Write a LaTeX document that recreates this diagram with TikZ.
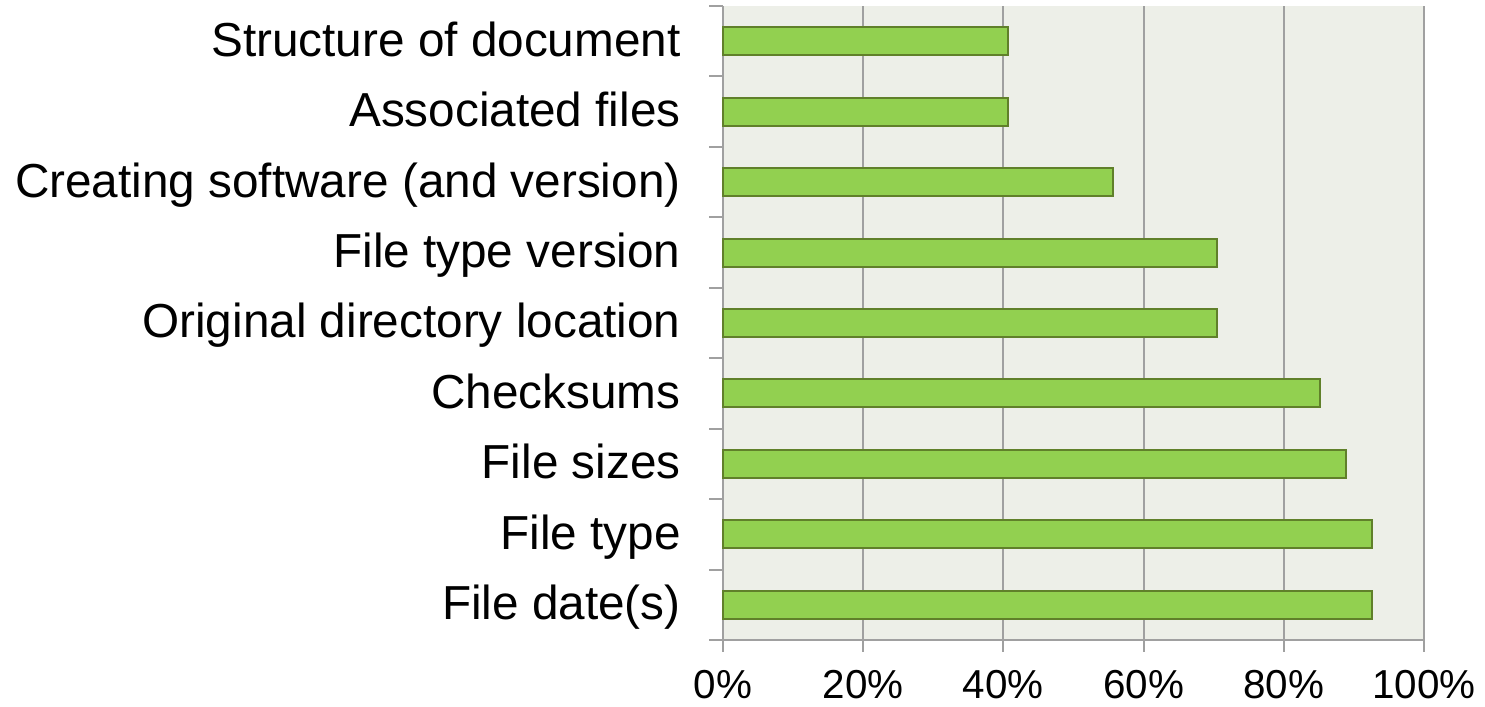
\documentclass[tikz,border=0pt]{standalone}
\usepackage{fontspec}
\setmainfont{Liberation Sans}
\usepackage{xcolor}
\definecolor{plotbg}{RGB}{237,239,232}
\definecolor{rule}{RGB}{160,160,160}
\definecolor{leaf}{RGB}{146,208,80}
\definecolor{moss}{RGB}{96,128,42}
\usepackage{tikz}

\begin{document}
\begin{tikzpicture}[x=0.5pt,y=-0.5pt,
  cat/.style={anchor=base east,inner sep=0pt,font=\fontsize{23.85}{28}\selectfont},
  pct/.style={anchor=base,inner sep=0pt,font=\fontsize{20.2}{24}\selectfont},
  hbar/.style={draw=moss,fill=leaf,line width=1pt},
  gline/.style={draw=rule,line width=1pt},
]
  \useasboundingbox (0,0) rectangle (1485,707);
  %% plot area and vertical grid
  \fill[plotbg] (723,6) rectangle (1424,640);
  \foreach \p in {20,40,...,100}
    \draw[gline] ({723+7.01*\p},6) -- ({723+7.01*\p},640);
  %% axes with outside ticks
  \draw[gline] (723,6) -- (723,640) -- (1424,640);
  \foreach \k in {0,...,9}
    \draw[gline] (709,{6+70.44*\k}) -- (723,{6+70.44*\k});
  \foreach \p in {0,20,...,100}{
    \draw[gline] ({723+7.01*\p},640) -- ++(0,12);
    \node[pct] (tick\p) at ({723+7.01*\p},698) {\p\%};
  }
  %% bars, top to bottom
  \foreach \v/\name [count=\i from 0] in {
      40.7/Structure of document,
      40.7/Associated files,
      55.6/Creating software (and version),
      70.4/File type version,
      70.4/Original directory location,
      85.2/Checksums,
      88.9/File sizes,
      92.6/File type,
      92.6/File date(s)}{
    \pgfmathsetmacro\yc{6+70.44*(\i+0.5)}
    \draw[hbar] (723,\yc-14) rectangle ({723+7.01*\v},\yc+14);
    \node[cat] (lab\i) at (681,\yc+15) {\name};
  }
\end{tikzpicture}
\end{document}
